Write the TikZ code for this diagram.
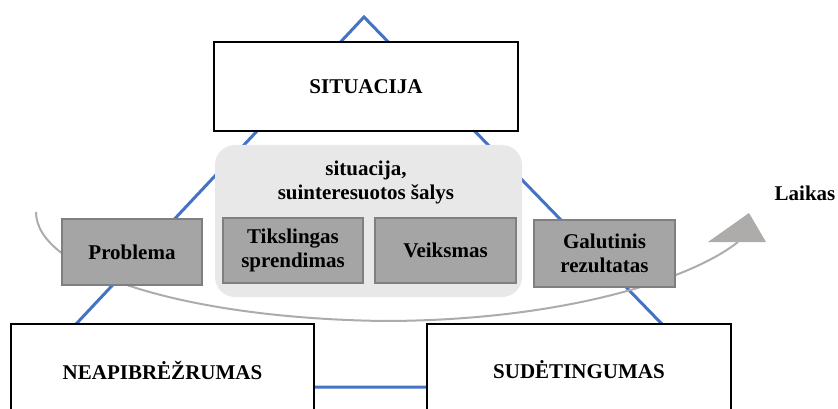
\documentclass[tikz,border=0pt]{standalone}
\usepackage{fontspec}
\setmainfont{Liberation Serif}
\usepackage{tikz}
\usetikzlibrary{calc,positioning}
\definecolor{linija}{HTML}{4472C4}
\definecolor{pilka}{HTML}{A5A5A5}
\definecolor{kontur}{HTML}{7F7F7F}
\definecolor{fonas}{HTML}{E8E8E8}
\definecolor{laikas}{HTML}{AEABAB}
\tikzset{
    didelis/.style={rectangle,draw,line width=2pt,fill=white,inner sep=0pt,minimum width=304pt,node font=\fontsize{21}{24}\selectfont\bfseries},
    etapas/.style={rectangle,draw=kontur,line width=2pt,fill=pilka,inner sep=0pt,minimum width=140pt,minimum height=65pt,align=center,node font=\fontsize{21}{24}\selectfont\bfseries},
    sritis/.style={rectangle,rounded corners=20pt,fill=fonas,draw=none,inner sep=0pt,minimum width=307pt,minimum height=152pt},
    antraste/.style={align=center,inner sep=0pt,node font=\fontsize{21}{24}\selectfont\bfseries},
    trikampis/.style={draw=linija,line width=3pt},
    laiko/.style={draw=laikas,line width=2pt},
}
\begin{document}
\begin{tikzpicture}[x=1pt,y=-1pt]
\useasboundingbox (0,0) rectangle (838,409);
\clip (0,0) rectangle (838,409);

% trikampis
\coordinate (virsus) at (364,17);
\coordinate (kaire) at (17,387);
\coordinate (desine) at (723,387);
\draw[trikampis] (kaire) -- (virsus) -- (desine) -- cycle;

% laiko rodykle
\coordinate (pradzia) at (36,212);
\coordinate (galas) at (738,242);
\draw[laiko] (pradzia) .. controls (36,270) and (180,318) .. (383,321) .. controls (560,321) and (690,280) .. (galas);
\coordinate (smaigalys) at (749,213);
\fill[laikas] (708,242) -- (smaigalys) -- (766,242) -- cycle;
\node[antraste,anchor=center] (laik) at (805,193) {Laikas};

\node[didelis,minimum height=89pt] (sit) at (366,86.5) {SITUACIJA};
\node[didelis,minimum height=92pt,minimum width=303pt] (neap) at (162.5,370) {NEAPIBRĖŽRUMAS};
\node[didelis,minimum height=92pt] (sud) at (579,370) {SUDĖTINGUMAS};

\node[sritis] (sr) at (368.5,221) {};
\node[antraste] (srt) at (366,182) {situacija,\\suinteresuotos šalys};

\node[etapas,minimum height=66pt] (prob) at (132,252) {Problema};
\node[etapas] (tiks) at (293,250.5) {Tikslingas\\sprendimas};
\node[etapas,minimum width=141pt,right=10pt of tiks] (veik) {Veiksmas};
\node[etapas,minimum width=141pt,minimum height=67pt] (gal) at (604.5,253.5) {Galutinis\\rezultatas};
\end{tikzpicture}
\end{document}
